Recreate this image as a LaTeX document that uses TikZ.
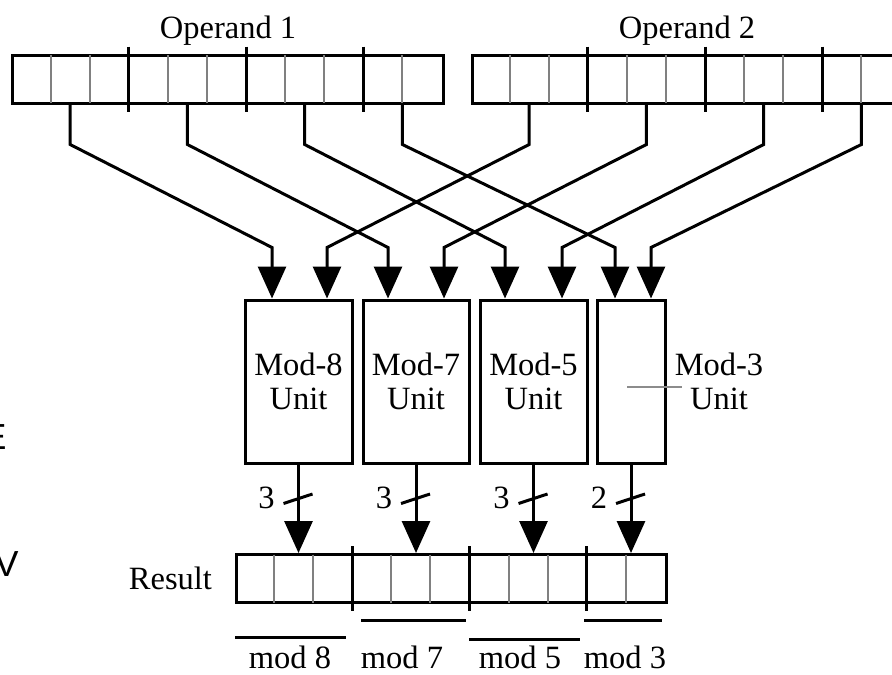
\documentclass[tikz,border=0pt]{standalone}
\usepackage{fontspec}
\setmainfont{Liberation Serif}
\newfontfamily\cutfont{Liberation Sans}
\usetikzlibrary{arrows.meta,positioning,calc}
\tikzset{
  regbox/.style={draw,line width=1.2pt,minimum width=172pt,minimum height=19.2pt,inner sep=0pt},
  unitbox/.style={draw,line width=1.2pt,minimum height=65.2pt,inner sep=0pt,align=center,
    font=\fontsize{13}{13.4}\selectfont},
  bitsep/.style={draw=black!50,line width=0.8pt,shorten <=0.6pt,shorten >=0.6pt},
  groupsep/.style={line width=1.2pt},
  wire/.style={line width=1.2pt,-{Triangle[length=12.8pt,width=11.2pt]}},
  buswidth/.style={line width=1.2pt},
  leader/.style={draw=black!45,line width=0.9pt},
  modline/.style={line width=1.2pt},
  txt/.style={font=\fontsize{13}{13.4}\selectfont,inner sep=0pt},
  cutletter/.style={font=\cutfont\fontsize{14.5}{14.5}\selectfont,inner sep=0pt}
}

\begin{document}
\begin{tikzpicture}[x=0.4pt,y=-0.4pt]
  \useasboundingbox (0,0) rectangle (892,674);
  % registers
  \node[regbox] (op1) at (228,79) {};
  \node[regbox] (op2) at (687,79) {};
  \node[regbox] (res) at (451.5,578.5) {};
  \foreach \r in {op1,op2,res}{
    \foreach \k in {1,2,4,5,7,8,10}
      \draw[bitsep] ($(\r.north west)+(\k*39.09,0)$) -- ($(\r.south west)+(\k*39.09,0)$);
    \foreach \k in {3,6,9}
      \draw[groupsep] ($(\r.north west)+(\k*39.09,-7)$) -- ($(\r.south west)+(\k*39.09,7)$);
  }
  \node[txt,anchor=base] (lop1) at ($(op1.north)+(0,-15)$) {Operand 1};
  \node[txt,anchor=base] (lop2) at ($(op2.north)+(0,-15)$) {Operand 2};
  \node[txt,left=9pt of res] (lres) {Result};
  % units
  \node[unitbox,minimum width=42.8pt] (u8) at (298.5,381.5) {Mod-8\\Unit};
  \node[unitbox,minimum width=42.4pt] (u7) at (416,381.5) {Mod-7\\Unit};
  \node[unitbox,minimum width=42.8pt] (u5) at (533.5,381.5) {Mod-5\\Unit};
  \node[unitbox,minimum width=27.2pt] (u3) at (631,381.5) {};
  \node[txt,align=center] (t3) at (719,381.5) {Mod-3\\Unit};
  \draw[leader] ($(u3.center)+(-4,5.5)$) -- ($(t3.west)+(8,5.5)$);
  % operand groups -> unit inputs
  \foreach \g/\k in {1/1.5,2/4.5,3/7.5,4/10}{
    \coordinate (a\g) at ($(op1.south west)+(\k*39.09,0)$);
    \coordinate (b\g) at ($(op2.south west)+(\k*39.09,0)$);
  }
  \foreach \m/\dl/\dr in {u8/-26.5/28.5,u7/-28/28,u5/-28.5/28.5,u3/-16/20}{
    \coordinate (\m a) at ($(\m.north)+(\dl,0)$);
    \coordinate (\m b) at ($(\m.north)+(\dr,0)$);
  }
  \foreach \s/\d in {a1/u8a,a2/u7a,a3/u5a,a4/u3a,b1/u8b,b2/u7b,b3/u5b,b4/u3b}
    \draw[wire] (\s) -- ++(0,40) -- ($(\d)+(0,-51)$) -- (\d);
  % unit outputs -> result
  \foreach \m/\w in {u8/3,u7/3,u5/3,u3/2}{
    \draw[wire] (\m.south) -- (\m.south |- res.north);
    \coordinate (s\m) at ($(\m.south)+(0,34)$);
    \draw[buswidth] ($(s\m)+(-15,5)$) -- ($(s\m)+(14,-4.5)$);
    \node[txt] (w\m) at ($(s\m)+(-32,-1)$) {\w};
  }
  % field marks
  \draw[modline] (235,637) -- (346,637);
  \draw[modline] (361,620) -- (466,620);
  \draw[modline] (469,639) -- (580,639);
  \draw[modline] (584,620) -- (662,620);
  \node[txt,anchor=base] (f8) at (290,668) {mod 8};
  \node[txt,anchor=base] (f7) at (402,668) {mod 7};
  \node[txt,anchor=base] (f5) at (520,668) {mod 5};
  \node[txt,anchor=base] (f3) at (625,668) {mod 3};
  % cut-off letters at the left edge
  \node[cutletter,anchor=east] (ce) at (7,437.5) {E};
  \node[cutletter,anchor=east] (cv) at (19,564.5) {V};
\end{tikzpicture}
\end{document}
